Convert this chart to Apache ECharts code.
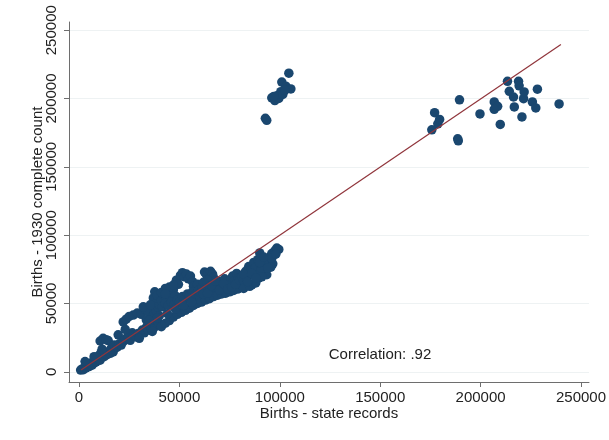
<!DOCTYPE html>
<html>
<head>
<meta charset="utf-8">
<script src="https://cdn.jsdelivr.net/npm/echarts@6/dist/echarts.min.js"></script>
<style>
  html, body { margin: 0; padding: 0; background: #fff; }
  #chart { width: 609px; height: 440px; }
</style>
</head>
<body>
<div id="chart"></div>
<script>
// births: [state records, 1930 complete count]
const lowBand = [
  [800,1200],[1500,2000],[2200,1500],[3000,3500],[3500,2800],[4200,4500],[5000,3800],[5500,5200],
  [6000,6000],[6500,4800],[7000,7500],[7500,6500],[8000,8800],[8500,7200],[9000,10500],[9500,9000],
  [10000,12000],[10500,8500],[11000,14000],[10500,22500],[12000,24500],[13500,23500],[14500,22800],
  [12500,11000],[13000,13000],[14000,12500],[15000,15000],[15500,13500],[16000,17000],[16500,15500],
  [17000,14500],[18000,17500],[17500,19500],[19000,18000],[19500,27000],[20000,20500],[21000,19500],
  [22000,22000],[3000,7500],[7500,11000],[11500,16500]
]
const midBand = [
  [22000,36500],[23500,38500],[25000,40500],[27000,41500],[29000,43000],[31000,42000],[33000,45500],
  [34500,44000],[23000,24000],[24500,26000],[25500,23000],[26500,28500],[27500,26500],[28500,25500],
  [29500,28000],[30500,27500],[31500,30500],[32500,28500],[33500,32500],[34500,30500],[35500,33500],
  [36000,31500],[37000,35000],[38000,33000],[38500,37500],[39500,36000],[36500,40000],[37500,42500],
  [38500,44500],[39500,47000],[37000,54000],[38500,50500],[40000,49000],[40000,41000],[39000,39500],
  [23000,31000],[33500,38000],[35000,37500],[37700,58500],[39000,56000],[32000,47500],[35500,49000],
  [30000,24500],[36500,29500]
]
const upperBand = [
  [41000,52000],[42000,56500],[43500,54500],[44500,58000],[45500,53000],[46000,57000],[47000,60000],
  [48000,55500],[48500,67000],[49500,64000],[50500,70500],[51500,72500],[52500,69500],[53500,71500],
  [54500,68000],[55500,70000],[56500,66000],[57000,62500],[58000,60000],[59000,64000],[41500,47500],
  [43000,50000],[44500,48500],[46000,51000],[47500,49500],[49000,52500],[50000,51000],[51500,55000],
  [52500,53000],[54000,57000],[55000,55500],[56500,58500],[58000,56500],[59500,59500],[45000,62000],
  [47000,63500],[43000,61000],[41000,58000],[43000,57000],
  [41000,33000],[43000,35500],[45000,37500],[47000,40000],[49000,42000],[51000,43500],[53000,45000],
  [55000,46500],[57000,48500],[59000,50000],[57000,53000],[60000,55000],[44000,42500],[48000,46000],
  [52000,48500],[56000,51000],
  [60500,58000],[61500,62000],[62500,73000],[63500,71000],[64500,72500],[65500,73500],[66500,71500],
  [67000,69000],[64000,67000],[62000,65500],[63000,60000],[65000,62500],[66500,59000],[68000,64000],
  [69500,62000],[70500,66000],[71500,63500],[72500,68000],[73500,65500],[74500,63500],[75500,67000],
  [76500,70000],[77500,66500],[78500,72000],[79500,68500],[68000,60500],[72000,61000],[80000,64500],
  [61000,51000],[63000,52500],[65000,53500],[67000,55000],[69000,56000],[71000,57000],[73000,57500],
  [75000,58500],[77000,59500],[79000,60500],[62000,57000],[64000,57500],[66000,63000],[68000,66500],
  [70000,60000],[72000,64500],[74000,60500],[76000,62000],[78000,64000],[80000,67000],
  [81000,70000],[82000,66500],[83000,73500],[84500,77000],[85500,74500],[86000,63500],[87000,80000],
  [88000,76500],[89000,82000],[90000,87000],[89500,68500],[91000,78500],[92000,72500],[93000,76000],
  [94000,81000],[95000,84000],[96000,86500],[97500,88500],[98500,90500],[99500,89500],[93500,71000],
  [90500,74000],[96500,79000],[83500,68000],[87500,71000],[82000,61000],[85000,62500],[88000,65000],
  [91000,69500],[95500,76500],[82000,71500],[84000,66000],[86000,72000],[88000,68500],[90000,80000],
  [92000,84000],[94000,76000],[96000,83000],[98000,86000]
]
const highCluster = [
  [92800,185500],[93500,184000],[96000,200500],[97500,198500],[98500,202000],[99500,200000],
  [100500,205000],[101500,203000],[101000,212000],[103000,209000],[104500,218500],[105500,207000],
  [102500,206000],[97000,201500]
]
const rightCluster = [
  [175700,177100],[177100,189600],[178700,181500],[179600,184700],[188600,170500],[188900,169000],
  [189500,199000],[199700,188700],[206800,197500],[208500,194300],[206800,192100],[209800,181000],
  [213400,212600],[214300,205300],[216400,201100],[216800,193800],[218900,212600],[219200,209300],
  [220600,186500],[221400,199900],[221700,204800],[225800,197500],[227500,193100],[228300,206800],
  [239100,196000]
]
const fitLine = [[1000,1200],[240000,239500]]
const xTicks = [0,50000,100000,150000,200000,250000]
const yTicks = [0,50000,100000,150000,200000,250000]
const corrText = 'Correlation: .92'

const points = [].concat(lowBand, midBand, upperBand, highCluster, rightCluster)
const font = "'Liberation Sans', Arial, Helvetica, sans-serif"
const axisGray = '#6e6e6e'
const plain = v => String(v)

const chart = echarts.init(document.getElementById('chart'))
chart.setOption({
  animation: false,
  backgroundColor: '#fff',
  grid: { left: 69, right: 17, top: 22, bottom: 58, containLabel: false },
  xAxis: {
    type: 'value',
    min: -5000,
    max: 254000,
    name: 'Births - state records',
    nameLocation: 'middle',
    nameGap: 24,
    nameMoveOverlap: false,
    nameTextStyle: { fontFamily: font, fontSize: 15, color: '#222', verticalAlign: 'top' },
    axisLine: { show: true, onZero: false, lineStyle: { color: axisGray, width: 1 } },
    axisTick: { show: true, length: 5, customValues: xTicks, lineStyle: { color: axisGray } },
    axisLabel: { customValues: xTicks, formatter: plain, margin: 8, fontFamily: font, fontSize: 15, color: '#222' },
    splitLine: { show: false }
  },
  yAxis: {
    type: 'value',
    min: -7500,
    max: 256000,
    name: 'Births - 1930 complete count',
    nameLocation: 'middle',
    nameGap: 24,
    nameMoveOverlap: false,
    nameTextStyle: { fontFamily: font, fontSize: 15, color: '#222' },
    axisLine: { show: true, onZero: false, lineStyle: { color: axisGray, width: 1 } },
    axisTick: { show: true, length: 5, customValues: yTicks, lineStyle: { color: axisGray } },
    axisLabel: { customValues: yTicks, formatter: plain, rotate: 90, margin: 10, fontFamily: font, fontSize: 15, color: '#222' },
    splitLine: { show: true, lineStyle: { color: '#eef2f3', width: 1 } }
  },
  graphic: [{
    type: 'text',
    x: 380,
    y: 355,
    style: {
      text: corrText,
      fontFamily: font,
      fontSize: 15,
      fill: '#222',
      textAlign: 'center',
      textVerticalAlign: 'middle'
    }
  }],
  series: [
    {
      type: 'scatter',
      data: points,
      symbolSize: 9.5,
      itemStyle: { color: '#1a476f', opacity: 1 },
      z: 2
    },
    {
      type: 'line',
      data: fitLine,
      symbol: 'none',
      lineStyle: { color: '#90353b', width: 1.2 },
      z: 3
    }
  ]
})
</script>
</body>
</html>
